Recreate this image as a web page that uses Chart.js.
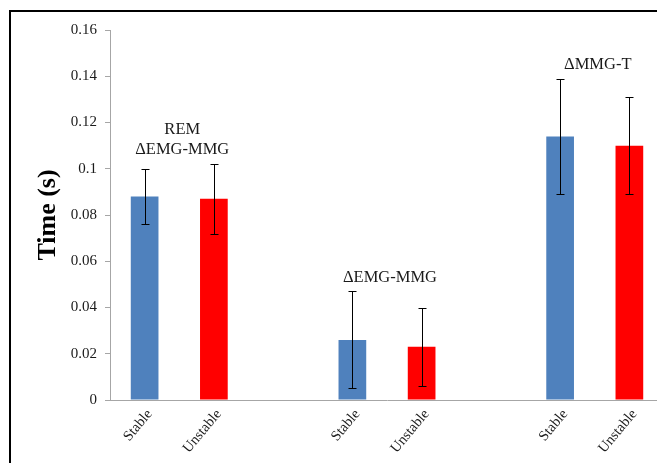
<!DOCTYPE html>
<html>
<head>
<meta charset="utf-8">
<script src="https://cdn.jsdelivr.net/npm/chart.js@4.4.0/dist/chart.umd.min.js"></script>
<style>
  html, body { margin: 0; padding: 0; background: #fff; overflow: hidden; }
  #wrap { position: relative; width: 657px; height: 463px; overflow: hidden; }
  #frame { position: absolute; left: 9px; top: 10px; width: 700px; height: 500px; border: 2px solid #000; }
  #box { position: absolute; left: 0; top: 0; width: 680px; height: 463px; }
</style>
</head>
<body>
<div id="wrap">
  <div id="frame"></div>
  <div id="box"><canvas id="chart"></canvas></div>
</div>
<script>
// conditions within each group, and a blank slot between groups
const categories = ['Stable', 'Unstable', '', 'Stable', 'Unstable', '', 'Stable', 'Unstable'];
const groupNames = [['REM', '\u0394EMG-MMG'], ['\u0394EMG-MMG'], ['\u0394MMG-T']];

const stableMeans = [0.088, 0.026, 0.114];
const unstableMeans = [0.087, 0.023, 0.110];
const stableErr = [0.012, 0.021, 0.025];
const unstableErr = [0.015, 0.017, 0.021];

const yTicks = [0, 0.02, 0.04, 0.06, 0.08, 0.1, 0.12, 0.14, 0.16];

const blue = '#4f81bd';
const red = '#ff0000';

// spread the groups over the slots
const values = [], errors = [], colors = [];
for (let g = 0; g < groupNames.length; g++) {
    values.push(stableMeans[g], unstableMeans[g]);
    errors.push(stableErr[g], unstableErr[g]);
    colors.push(blue, red);
    if (g < groupNames.length - 1) {
        values.push(null);
        errors.push(null);
        colors.push('rgba(0,0,0,0)');
    }
}

const serif = "'Liberation Serif', 'Times New Roman', serif";

const errorBars = {
    id: 'errorBars',
    afterDatasetsDraw(chart) {
        const ctx = chart.ctx;
        const y = chart.scales.y;
        const meta = chart.getDatasetMeta(0);
        ctx.save();
        ctx.strokeStyle = '#000';
        ctx.lineWidth = 1;
        meta.data.forEach((bar, i) => {
            if (values[i] == null) return;
            const x = Math.round(bar.x) + 0.5;
            const top = Math.round(y.getPixelForValue(values[i] + errors[i])) + 0.5;
            const bot = Math.round(y.getPixelForValue(values[i] - errors[i])) + 0.5;
            ctx.beginPath();
            ctx.moveTo(x, top); ctx.lineTo(x, bot);
            ctx.moveTo(x - 4, top); ctx.lineTo(x + 4, top);
            ctx.moveTo(x - 4, bot); ctx.lineTo(x + 4, bot);
            ctx.stroke();
        });
        ctx.restore();
    }
};

const groupLabels = {
    id: 'groupLabels',
    afterDatasetsDraw(chart) {
        const ctx = chart.ctx;
        const y = chart.scales.y;
        const meta = chart.getDatasetMeta(0);
        ctx.save();
        ctx.font = '16.5px ' + serif;
        ctx.fillStyle = '#1a1a1a';
        ctx.textAlign = 'center';
        ctx.textBaseline = 'middle';
        groupNames.forEach((lines, g) => {
            const a = g * 3, b = g * 3 + 1;
            const cx = (meta.data[a].x + meta.data[b].x) / 2 + 3;
            const top = Math.min(y.getPixelForValue(values[a] + errors[a]),
                                 y.getPixelForValue(values[b] + errors[b]));
            let ly = top - 14;
            for (let k = lines.length - 1; k >= 0; k--) {
                ctx.fillText(lines[k], cx, ly);
                ly -= 20;
            }
        });
        ctx.restore();
    }
};

new Chart(document.getElementById('chart'), {
    type: 'bar',
    data: {
        labels: categories,
        datasets: [{
            data: values,
            backgroundColor: colors,
            barPercentage: 0.4,
            categoryPercentage: 1
        }]
    },
    options: {
        responsive: true,
        maintainAspectRatio: false,
        animation: false,
        layout: { padding: { left: 24, right: 16, top: 30, bottom: 0 } },
        plugins: {
            legend: { display: false },
            tooltip: { enabled: false }
        },
        scales: {
            x: {
                grid: { display: false },
                border: { color: '#a6a6a6', width: 1 },
                ticks: {
                    color: '#1a1a1a',
                    font: { family: serif, size: 14.5 },
                    minRotation: 50,
                    maxRotation: 50,
                    autoSkip: false,
                    padding: -2,
                    labelOffset: 5
                },
                afterFit(scale) { scale.height = 63; }
            },
            y: {
                min: 0,
                max: 0.16,
                afterBuildTicks(scale) { scale.ticks = yTicks.map(v => ({ value: v })); },
                grid: { drawOnChartArea: false, drawTicks: true, tickLength: 5, color: '#a6a6a6' },
                border: { color: '#a6a6a6', width: 1 },
                ticks: {
                    color: '#1a1a1a',
                    font: { family: serif, size: 15 },
                    padding: 8,
                    callback: v => String(+v.toFixed(2))
                },
                title: {
                    display: true,
                    text: 'Time (s)',
                    color: '#000',
                    font: { family: serif, size: 26, weight: 'bold' },
                    padding: { top: 9, bottom: 0 }
                },
                afterFit(scale) { scale.width = 86; }
            }
        }
    },
    plugins: [errorBars, groupLabels]
});
</script>
</body>
</html>
